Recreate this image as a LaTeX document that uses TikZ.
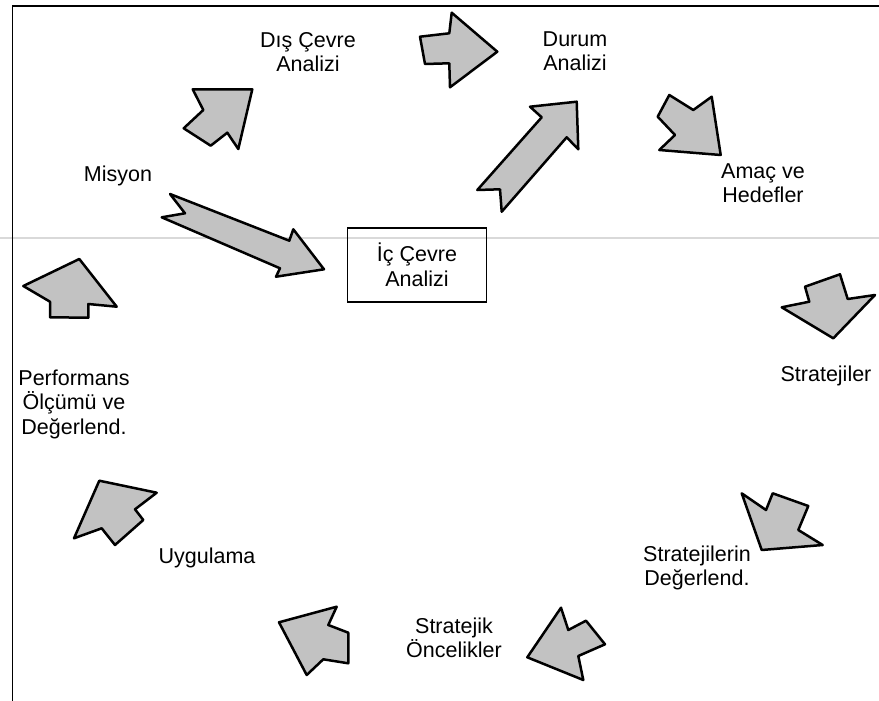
\documentclass[tikz,border=0pt]{standalone}
\usepackage{fontspec}
\setmainfont{Liberation Sans}
\begin{document}
\begin{tikzpicture}[x=1pt,y=-1pt,
  blockarrow/.style={draw=black, line width=2.5pt, line join=round, fill=black!24},
  lbl/.style={font=\fontsize{21.5}{24.5}\selectfont, align=center, inner sep=0pt},
  frameline/.style={draw=black, line width=1.6pt},
  foldline/.style={draw=black!15, line width=1.4pt}]
\useasboundingbox (0,0) rectangle (879,701);

% page frame and fold
\draw[foldline] (0,238) -- (879,238);
\draw[frameline] (12.5,701) -- (12.5,6) -- (879,6);

% stage labels
\node[lbl] (misyon) at (118,176) {Misyon};
\node[lbl] (dis) at (308,52) {Dış Çevre\\Analizi};
\node[lbl] (durum) at (575,51) {Durum\\Analizi};
\node[lbl] (amac) at (763,183) {Amaç ve\\Hedefler};
\node[lbl] (strat) at (826,376) {Stratejiler};
\node[lbl] (stratdeg) at (697,568) {Stratejilerin\\Değerlend.};
\node[lbl] (oncelik) at (454,638) {Stratejik\\Öncelikler};
\node[lbl] (uygulama) at (207,558) {Uygulama};
\node[lbl] (perf) at (74,404) {Performans\\Ölçümü ve\\Değerlend.};
\node[lbl, draw=black, line width=1.6pt, minimum width=139pt, minimum height=74.5pt] (ic) at (417,265) {İç Çevre\\Analizi};

% block arrows around the cycle
% Misyon -> Dis Cevre
\draw[blockarrow] (192.7,89.3) -- (252.3,89.3) -- (238.3,149) -- (227.3,132.7) -- (210.7,145.7) -- (183.7,128.3) -- (203.3,110) -- cycle;
% Dis Cevre -> Durum
\draw[blockarrow] (451.7,12.7) -- (497.3,51.7) -- (450,87.3) -- (449.3,63.3) -- (425,64) -- (420,36.7) -- (449.3,33.3) -- cycle;
% Ic Cevre -> Durum (long)
\draw[blockarrow] (576.7,101.7) -- (530,106.7) -- (541.7,117.3) -- (477.3,190) -- (500,189.3) -- (501.7,211.7) -- (566.7,137.3) -- (578.3,149.3) -- cycle;
% Misyon -> Ic Cevre (long)
\draw[blockarrow] (170,194) -- (289.3,240.7) -- (293.3,229.3) -- (324,269.3) -- (276,276.7) -- (280,268.3) -- (161.7,217.3) -- (185,213.3) -- cycle;
% Durum -> Amac
\draw[blockarrow] (669.3,95) -- (693.3,110) -- (711.7,96.7) -- (720.7,155) -- (659.3,150) -- (675,135) -- (657.7,116.7) -- cycle;
% Amac -> Stratejiler
\draw[blockarrow] (781.7,307.3) -- (809.3,301.7) -- (805,286.7) -- (840,274.3) -- (847.7,299) -- (875,295) -- (833.3,338.3) -- cycle;
% Stratejiler -> Stratejilerin Degerlend.
\draw[blockarrow] (741.7,493.3) -- (766,510) -- (772.7,493.3) -- (808.3,506) -- (798.3,530) -- (822.7,545) -- (761.7,550) -- cycle;
% -> Stratejik Oncelikler
\draw[blockarrow] (527.3,657.3) -- (561,607.7) -- (568.3,630) -- (586,620.7) -- (605,644.3) -- (578.3,656) -- (583.3,680) -- cycle;
% -> Uygulama
\draw[blockarrow] (279,622.3) -- (336.7,606.7) -- (328.3,625) -- (348.3,632.7) -- (348.3,663.3) -- (323.3,659.3) -- (306.7,675) -- cycle;
% Uygulama -> Performans
\draw[blockarrow] (74,538.3) -- (99.3,480.7) -- (156.7,492.7) -- (135,509.3) -- (143.3,520) -- (115,545) -- (101.7,528.3) -- cycle;
% Performans -> Misyon
\draw[blockarrow] (79.3,259) -- (116.7,306.7) -- (88.3,304) -- (88.3,317.7) -- (50,317.3) -- (50,301.7) -- (23.3,286) -- cycle;
\end{tikzpicture}
\end{document}
